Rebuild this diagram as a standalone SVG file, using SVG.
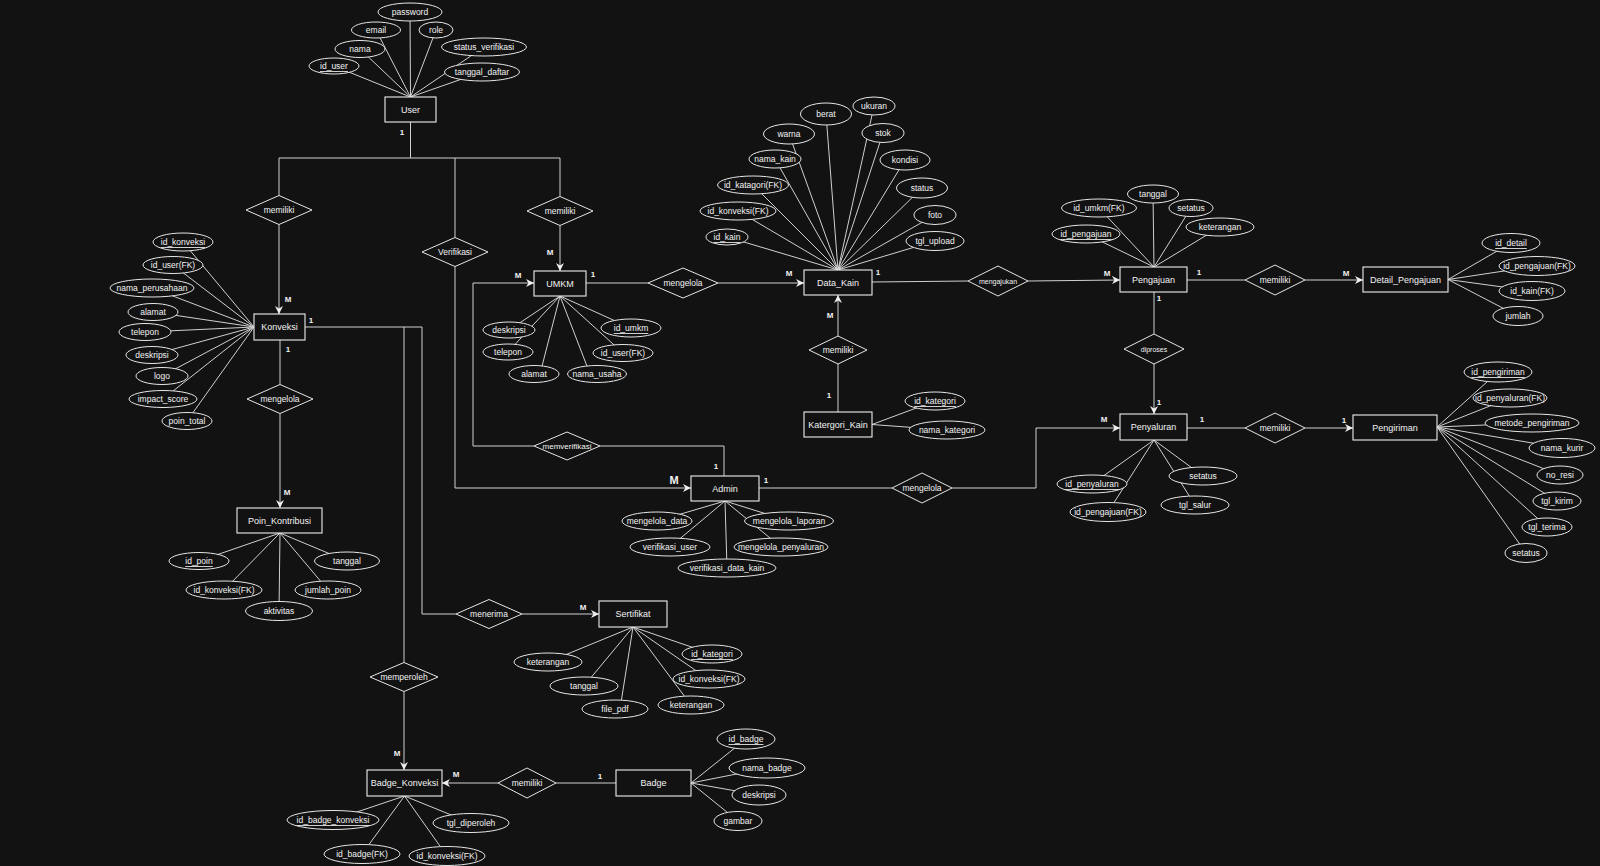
<svg xmlns="http://www.w3.org/2000/svg" width="1600" height="866" viewBox="0 0 1600 866">
<style>
text{font-family:"Liberation Sans",Arial,sans-serif;fill:#f2f2f2;text-anchor:middle;dominant-baseline:central;font-size:8.5px}
.ent text{font-size:9px}
.ent rect{fill:#121212;stroke:#eeeeee;stroke-width:1.1}
.att ellipse{fill:#121212;stroke:#e6e6e6;stroke-width:1}
.rel polygon{fill:#121212;stroke:#e6e6e6;stroke-width:1}
.u{text-decoration:underline}
.card{font-size:8px;font-weight:bold}
.big{font-size:11px;font-weight:bold}
.sm{font-size:7px}
.xs{font-size:8px}
#connectors line,#connectors polyline{stroke:#d0d0d0;stroke-width:1;fill:none}
#connectors .a{marker-end:url(#arr)}
</style>
<defs>
<marker id="arr" viewBox="0 0 10 10" refX="10" refY="5" markerWidth="8" markerHeight="8" markerUnits="userSpaceOnUse" orient="auto">
<path d="M0,0 L10,5 L0,10 L3,5 Z" fill="#f0f0f0"/>
</marker>
</defs>
<rect width="1600" height="866" fill="#121212"/>

<g id="connectors">
<line x1="410.5" y1="122" x2="410.5" y2="158"/>
<line x1="279" y1="158" x2="560" y2="158"/>
<line x1="279" y1="158" x2="279" y2="195.5"/>
<line class="a" x1="279" y1="224.5" x2="279" y2="314"/>
<line x1="455" y1="158" x2="455" y2="237.5"/>
<polyline class="a" points="455,266.5 455,488 691,488"/>
<line x1="560" y1="158" x2="560" y2="196.5"/>
<line class="a" x1="560" y1="225.5" x2="560" y2="271"/>
<line x1="280" y1="340" x2="280" y2="384.5"/>
<line class="a" x1="280" y1="413.5" x2="280" y2="508"/>
<polyline points="305,327 422,327 422,614 456,614"/>
<line x1="404" y1="327" x2="404" y2="662.5"/>
<line class="a" x1="404" y1="691.5" x2="404" y2="770"/>
<line class="a" x1="522" y1="614" x2="599" y2="614"/>
<line x1="586" y1="283" x2="648" y2="283"/>
<line class="a" x1="718" y1="283" x2="804" y2="283"/>
<polyline points="724,476 724,446 600,446"/>
<polyline class="a" points="534,446 473,446 473,283 534,283"/>
<line x1="759" y1="488" x2="892" y2="488"/>
<polyline class="a" points="952,488 1036,488 1036,428 1120,428"/>
<line x1="872" y1="282" x2="968" y2="281"/>
<line class="a" x1="1028" y1="281" x2="1120" y2="280"/>
<line x1="1187" y1="280" x2="1245" y2="280"/>
<line class="a" x1="1305" y1="280" x2="1363" y2="280"/>
<line x1="1154" y1="292" x2="1154" y2="334"/>
<line class="a" x1="1154" y1="364" x2="1154" y2="414"/>
<line x1="1187" y1="428" x2="1245" y2="428"/>
<line class="a" x1="1305" y1="428" x2="1353" y2="428"/>
<line x1="838" y1="412" x2="838" y2="364"/>
<line class="a" x1="838" y1="336" x2="838" y2="295"/>
<line x1="616" y1="783" x2="556" y2="783"/>
<line class="a" x1="498" y1="783" x2="442" y2="783"/>
<line x1="410.5" y1="97" x2="410" y2="12"/>
<line x1="410.5" y1="97" x2="376" y2="30"/>
<line x1="410.5" y1="97" x2="436" y2="30"/>
<line x1="410.5" y1="97" x2="360" y2="49"/>
<line x1="410.5" y1="97" x2="484" y2="47"/>
<line x1="410.5" y1="97" x2="334" y2="66"/>
<line x1="410.5" y1="97" x2="482" y2="72"/>
<line x1="254" y1="327" x2="183" y2="242"/>
<line x1="254" y1="327" x2="173" y2="265"/>
<line x1="254" y1="327" x2="152" y2="288"/>
<line x1="254" y1="327" x2="153" y2="312"/>
<line x1="254" y1="327" x2="145" y2="332"/>
<line x1="254" y1="327" x2="152" y2="355"/>
<line x1="254" y1="327" x2="162" y2="376"/>
<line x1="254" y1="327" x2="163" y2="399"/>
<line x1="254" y1="327" x2="187" y2="421"/>
<line x1="560" y1="296" x2="509" y2="330"/>
<line x1="560" y1="296" x2="631" y2="328"/>
<line x1="560" y1="296" x2="508" y2="352"/>
<line x1="560" y1="296" x2="623" y2="353"/>
<line x1="560" y1="296" x2="540" y2="374"/>
<line x1="560" y1="296" x2="590" y2="374"/>
<line x1="838" y1="270" x2="727" y2="237"/>
<line x1="838" y1="270" x2="738" y2="211"/>
<line x1="838" y1="270" x2="753" y2="185"/>
<line x1="838" y1="270" x2="775" y2="159"/>
<line x1="838" y1="270" x2="789" y2="134"/>
<line x1="838" y1="270" x2="826" y2="114"/>
<line x1="838" y1="270" x2="874" y2="106"/>
<line x1="838" y1="270" x2="883" y2="133"/>
<line x1="838" y1="270" x2="905" y2="160"/>
<line x1="838" y1="270" x2="922" y2="188"/>
<line x1="838" y1="270" x2="935" y2="215"/>
<line x1="838" y1="270" x2="935" y2="241"/>
<line x1="872" y1="424.5" x2="935" y2="401"/>
<line x1="872" y1="424.5" x2="947" y2="430"/>
<line x1="1154" y1="267" x2="1086" y2="234"/>
<line x1="1154" y1="267" x2="1099" y2="208"/>
<line x1="1154" y1="267" x2="1153" y2="194"/>
<line x1="1154" y1="267" x2="1191" y2="208"/>
<line x1="1154" y1="267" x2="1220" y2="227"/>
<line x1="1448" y1="279.5" x2="1511" y2="243"/>
<line x1="1448" y1="279.5" x2="1537" y2="266"/>
<line x1="1448" y1="279.5" x2="1532" y2="291"/>
<line x1="1448" y1="279.5" x2="1518" y2="316"/>
<line x1="1437" y1="427" x2="1498" y2="372"/>
<line x1="1437" y1="427" x2="1510" y2="398"/>
<line x1="1437" y1="427" x2="1532" y2="423"/>
<line x1="1437" y1="427" x2="1562" y2="448"/>
<line x1="1437" y1="427" x2="1560" y2="475"/>
<line x1="1437" y1="427" x2="1557" y2="501"/>
<line x1="1437" y1="427" x2="1547" y2="527"/>
<line x1="1437" y1="427" x2="1526" y2="553"/>
<line x1="1154" y1="440" x2="1092" y2="484"/>
<line x1="1154" y1="440" x2="1108" y2="512"/>
<line x1="1154" y1="440" x2="1203" y2="476"/>
<line x1="1154" y1="440" x2="1195" y2="505"/>
<line x1="725" y1="501" x2="657" y2="521"/>
<line x1="725" y1="501" x2="789" y2="521"/>
<line x1="725" y1="501" x2="670" y2="547"/>
<line x1="725" y1="501" x2="781" y2="547"/>
<line x1="725" y1="501" x2="727" y2="568"/>
<line x1="280" y1="533" x2="199" y2="561"/>
<line x1="280" y1="533" x2="347" y2="561"/>
<line x1="280" y1="533" x2="224" y2="590"/>
<line x1="280" y1="533" x2="328" y2="590"/>
<line x1="280" y1="533" x2="279" y2="611"/>
<line x1="633" y1="627" x2="548" y2="662"/>
<line x1="633" y1="627" x2="584" y2="686"/>
<line x1="633" y1="627" x2="620" y2="709"/>
<line x1="633" y1="627" x2="691" y2="705"/>
<line x1="633" y1="627" x2="708" y2="679"/>
<line x1="633" y1="627" x2="712" y2="654"/>
<line x1="404.5" y1="796" x2="333" y2="820"/>
<line x1="404.5" y1="796" x2="471" y2="823"/>
<line x1="404.5" y1="796" x2="362" y2="854"/>
<line x1="404.5" y1="796" x2="447" y2="856"/>
<line x1="691" y1="783" x2="746" y2="739"/>
<line x1="691" y1="783" x2="767" y2="768"/>
<line x1="691" y1="783" x2="759" y2="795"/>
<line x1="691" y1="783" x2="738" y2="821"/>
</g>

<g id="cardinalities">
<text class="card" x="402" y="132">1</text>
<text class="card" x="288" y="299">M</text>
<text class="card" x="311" y="320">1</text>
<text class="card" x="288" y="349">1</text>
<text class="card" x="550" y="252">M</text>
<text class="card" x="518" y="275">M</text>
<text class="card" x="593" y="274">1</text>
<text class="card" x="789" y="273">M</text>
<text class="card" x="878" y="272">1</text>
<text class="card" x="830" y="315">M</text>
<text class="card" x="829" y="395">1</text>
<text class="card" x="1107" y="273">M</text>
<text class="card" x="1199" y="272">1</text>
<text class="card" x="1159" y="298">1</text>
<text class="card" x="1346" y="273">M</text>
<text class="card" x="1159" y="402">1</text>
<text class="card" x="1104" y="419">M</text>
<text class="card" x="1202" y="419">1</text>
<text class="card" x="1344" y="420">1</text>
<text class="big" x="674" y="480">M</text>
<text class="card" x="716" y="466">1</text>
<text class="card" x="766" y="480">1</text>
<text class="card" x="287" y="492">M</text>
<text class="card" x="583" y="607">M</text>
<text class="card" x="397" y="753">M</text>
<text class="card" x="456" y="774">M</text>
<text class="card" x="600" y="776">1</text>
</g>

<g id="User" class="ent"><rect x="385" y="97" width="51" height="25"/><text x="410.5" y="109.5">User</text></g>
<g id="Konveksi" class="ent"><rect x="254" y="314" width="51" height="26"/><text x="279.5" y="327">Konveksi</text></g>
<g id="UMKM" class="ent"><rect x="534" y="271" width="52" height="25"/><text x="560" y="283.5">UMKM</text></g>
<g id="Data_Kain" class="ent"><rect x="804" y="270" width="68" height="25"/><text x="838" y="282.5">Data_Kain</text></g>
<g id="Pengajuan" class="ent"><rect x="1120" y="267" width="67" height="25"/><text x="1153.5" y="279.5">Pengajuan</text></g>
<g id="Detail_Pengajuan" class="ent"><rect x="1363" y="267" width="85" height="25"/><text x="1405.5" y="279.5">Detail_Pengajuan</text></g>
<g id="Penyaluran" class="ent"><rect x="1120" y="414" width="67" height="26"/><text x="1153.5" y="427">Penyaluran</text></g>
<g id="Pengiriman" class="ent"><rect x="1353" y="415" width="84" height="25"/><text x="1395" y="427.5">Pengiriman</text></g>
<g id="Katergori_Kain" class="ent"><rect x="804" y="412" width="68" height="25"/><text x="838" y="424.5">Katergori_Kain</text></g>
<g id="Admin" class="ent"><rect x="691" y="476" width="68" height="25"/><text x="725" y="488.5">Admin</text></g>
<g id="Poin_Kontribusi" class="ent"><rect x="237" y="508" width="85" height="25"/><text x="279.5" y="520.5">Poin_Kontribusi</text></g>
<g id="Sertifikat" class="ent"><rect x="599" y="601" width="68" height="26"/><text x="633" y="614">Sertifikat</text></g>
<g id="Badge_Konveksi" class="ent"><rect x="367" y="770" width="75" height="26"/><text x="404.5" y="783">Badge_Konveksi</text></g>
<g id="Badge" class="ent"><rect x="616" y="770" width="75" height="26"/><text x="653.5" y="783">Badge</text></g>

<g id="rel_memiliki_user_konveksi" class="rel"><polygon points="246,210 279,195.5 312,210 279,224.5"/><text x="279" y="210">memiliki</text></g>
<g id="rel_verifikasi" class="rel"><polygon points="422,252 455,237.5 488,252 455,266.5"/><text x="455" y="252">Verifikasi</text></g>
<g id="rel_memiliki_user_umkm" class="rel"><polygon points="527,211 560,196.5 593,211 560,225.5"/><text x="560" y="211">memiliki</text></g>
<g id="rel_mengelola_poin" class="rel"><polygon points="247,399 280,384.5 313,399 280,413.5"/><text x="280" y="399">mengelola</text></g>
<g id="rel_mengelola_kain" class="rel"><polygon points="648,283 683,268 718,283 683,298"/><text x="683" y="283">mengelola</text></g>
<g id="rel_memverifikasi" class="rel"><polygon points="534,446 567,432 600,446 567,460"/><text class="xs" x="567" y="446">memverifikasi</text></g>
<g id="rel_memiliki_kategori" class="rel"><polygon points="809,350 838,336 867,350 838,364"/><text x="838" y="350">memiliki</text></g>
<g id="rel_mengajukan" class="rel"><polygon points="968,281 998,266 1028,281 998,296"/><text class="sm" x="998" y="281">mengajukan</text></g>
<g id="rel_memiliki_detail" class="rel"><polygon points="1245,280 1275,265 1305,280 1275,295"/><text x="1275" y="280">memiliki</text></g>
<g id="rel_diproses" class="rel"><polygon points="1124,349 1154,334 1184,349 1154,364"/><text class="sm" x="1154" y="349">diproses</text></g>
<g id="rel_memiliki_pengiriman" class="rel"><polygon points="1245,428 1275,413 1305,428 1275,443"/><text x="1275" y="428">memiliki</text></g>
<g id="rel_mengelola_penyaluran" class="rel"><polygon points="892,488 922,473 952,488 922,503"/><text x="922" y="488">mengelola</text></g>
<g id="rel_menerima" class="rel"><polygon points="456,614 489,599.5 522,614 489,628.5"/><text x="489" y="614">menerima</text></g>
<g id="rel_memperoleh" class="rel"><polygon points="370,677 404,662.5 438,677 404,691.5"/><text x="404" y="677">memperoleh</text></g>
<g id="rel_memiliki_badge" class="rel"><polygon points="498,783 527,768 556,783 527,798"/><text x="527" y="783">memiliki</text></g>

<g id="attr_User" class="att">
<ellipse cx="410" cy="12" rx="32" ry="9"/><text x="410" y="12">password</text>
<ellipse cx="376" cy="30" rx="24.5" ry="8"/><text x="376" y="30">email</text>
<ellipse cx="436" cy="30" rx="17" ry="8"/><text x="436" y="30">role</text>
<ellipse cx="360" cy="49" rx="25" ry="8.5"/><text x="360" y="49">nama</text>
<ellipse cx="484" cy="47" rx="42.5" ry="9"/><text x="484" y="47">status_verifikasi</text>
<ellipse cx="334" cy="66" rx="25" ry="8"/><text class="u" x="334" y="66">id_user</text>
<ellipse cx="482" cy="72" rx="37.5" ry="9"/><text x="482" y="72">tanggal_daftar</text>
</g>
<g id="attr_Konveksi" class="att">
<ellipse cx="183" cy="242" rx="30" ry="9"/><text class="u" x="183" y="242">id_konveksi</text>
<ellipse cx="173" cy="265" rx="30" ry="8.5"/><text x="173" y="265">id_user(FK)</text>
<ellipse cx="152" cy="288" rx="42" ry="9"/><text x="152" y="288">nama_perusahaan</text>
<ellipse cx="153" cy="312" rx="25" ry="8.5"/><text x="153" y="312">alamat</text>
<ellipse cx="145" cy="332" rx="26" ry="8.5"/><text x="145" y="332">telepon</text>
<ellipse cx="152" cy="355" rx="26" ry="8.5"/><text x="152" y="355">deskripsi</text>
<ellipse cx="162" cy="376" rx="26" ry="8.5"/><text x="162" y="376">logo</text>
<ellipse cx="163" cy="399" rx="34" ry="8.5"/><text x="163" y="399">impact_score</text>
<ellipse cx="187" cy="421" rx="25" ry="8.5"/><text x="187" y="421">poin_total</text>
</g>
<g id="attr_UMKM" class="att">
<ellipse cx="509" cy="330" rx="26" ry="8"/><text x="509" y="330">deskripsi</text>
<ellipse cx="631" cy="328" rx="30" ry="9"/><text class="u" x="631" y="328">id_umkm</text>
<ellipse cx="508" cy="352" rx="25" ry="8"/><text x="508" y="352">telepon</text>
<ellipse cx="623" cy="353" rx="30" ry="8.5"/><text x="623" y="353">id_user(FK)</text>
<ellipse cx="534" cy="374" rx="25" ry="8.5"/><text x="534" y="374">alamat</text>
<ellipse cx="597" cy="374" rx="29.5" ry="8.5"/><text x="597" y="374">nama_usaha</text>
</g>
<g id="attr_Data_Kain" class="att">
<ellipse cx="727" cy="237" rx="21" ry="8"/><text class="u" x="727" y="237">id_kain</text>
<ellipse cx="738" cy="211" rx="38" ry="9"/><text x="738" y="211">id_konveksi(FK)</text>
<ellipse cx="753" cy="185" rx="35.5" ry="9"/><text x="753" y="185">id_katagori(FK)</text>
<ellipse cx="775" cy="159" rx="26" ry="9"/><text x="775" y="159">nama_kain</text>
<ellipse cx="789" cy="134" rx="25.5" ry="10"/><text x="789" y="134">warna</text>
<ellipse cx="826" cy="114" rx="25.5" ry="11"/><text x="826" y="114">berat</text>
<ellipse cx="874" cy="106" rx="21" ry="9"/><text x="874" y="106">ukuran</text>
<ellipse cx="883" cy="133" rx="21" ry="9.5"/><text x="883" y="133">stok</text>
<ellipse cx="905" cy="160" rx="25" ry="10"/><text x="905" y="160">kondisi</text>
<ellipse cx="922" cy="188" rx="25.5" ry="10"/><text x="922" y="188">status</text>
<ellipse cx="935" cy="215" rx="21" ry="9.5"/><text x="935" y="215">foto</text>
<ellipse cx="935" cy="241" rx="29" ry="9.5"/><text x="935" y="241">tgl_upload</text>
</g>
<g id="attr_Katergori_Kain" class="att">
<ellipse cx="935" cy="401" rx="30" ry="9"/><text class="u" x="935" y="401">id_kategori</text>
<ellipse cx="947" cy="430" rx="38" ry="9"/><text x="947" y="430">nama_kategori</text>
</g>
<g id="attr_Pengajuan" class="att">
<ellipse cx="1086" cy="234" rx="34" ry="9"/><text class="u" x="1086" y="234">id_pengajuan</text>
<ellipse cx="1099" cy="208" rx="37.5" ry="9"/><text x="1099" y="208">id_umkm(FK)</text>
<ellipse cx="1153" cy="194" rx="25.5" ry="9"/><text x="1153" y="194">tanggal</text>
<ellipse cx="1191" cy="208" rx="22" ry="8.5"/><text x="1191" y="208">setatus</text>
<ellipse cx="1220" cy="227" rx="34" ry="9"/><text x="1220" y="227">keterangan</text>
</g>
<g id="attr_Detail_Pengajuan" class="att">
<ellipse cx="1511" cy="243" rx="29" ry="9.5"/><text class="u" x="1511" y="243">id_detail</text>
<ellipse cx="1537" cy="266" rx="38" ry="9.5"/><text x="1537" y="266">id_pengajuan(FK)</text>
<ellipse cx="1532" cy="291" rx="33" ry="9.5"/><text x="1532" y="291">id_kain(FK)</text>
<ellipse cx="1518" cy="316" rx="25" ry="9.5"/><text x="1518" y="316">jumlah</text>
</g>
<g id="attr_Pengiriman" class="att">
<ellipse cx="1498" cy="372" rx="34" ry="10"/><text class="u" x="1498" y="372">id_pengiriman</text>
<ellipse cx="1510" cy="398" rx="37" ry="9"/><text x="1510" y="398">id_penyaluran(FK)</text>
<ellipse cx="1532" cy="423" rx="47" ry="9"/><text x="1532" y="423">metode_pengiriman</text>
<ellipse cx="1562" cy="448" rx="33" ry="9.5"/><text x="1562" y="448">nama_kurir</text>
<ellipse cx="1560" cy="475" rx="23" ry="9"/><text x="1560" y="475">no_resi</text>
<ellipse cx="1557" cy="501" rx="24" ry="9"/><text x="1557" y="501">tgl_kirim</text>
<ellipse cx="1547" cy="527" rx="25" ry="9"/><text x="1547" y="527">tgl_terima</text>
<ellipse cx="1526" cy="553" rx="21" ry="9.5"/><text x="1526" y="553">setatus</text>
</g>
<g id="attr_Penyaluran" class="att">
<ellipse cx="1092" cy="484" rx="35" ry="9"/><text class="u" x="1092" y="484">id_penyaluran</text>
<ellipse cx="1108" cy="512" rx="38" ry="9.5"/><text x="1108" y="512">id_pengajuan(FK)</text>
<ellipse cx="1203" cy="476" rx="34" ry="9"/><text x="1203" y="476">setatus</text>
<ellipse cx="1195" cy="505" rx="34" ry="9"/><text x="1195" y="505">tgl_salur</text>
</g>
<g id="attr_Admin" class="att">
<ellipse cx="657" cy="521" rx="35" ry="9"/><text x="657" y="521">mengelola_data</text>
<ellipse cx="789" cy="521" rx="44.5" ry="9"/><text x="789" y="521">mengelola_laporan</text>
<ellipse cx="670" cy="547" rx="40" ry="9"/><text x="670" y="547">verifikasi_user</text>
<ellipse cx="781" cy="547" rx="47" ry="9"/><text x="781" y="547">mengelola_penyaluran</text>
<ellipse cx="727" cy="568" rx="49" ry="9"/><text x="727" y="568">verifikasi_data_kain</text>
</g>
<g id="attr_Poin_Kontribusi" class="att">
<ellipse cx="199" cy="561" rx="30" ry="8.5"/><text class="u" x="199" y="561">id_poin</text>
<ellipse cx="347" cy="561" rx="32.5" ry="9"/><text x="347" y="561">tanggal</text>
<ellipse cx="224" cy="590" rx="38" ry="9"/><text x="224" y="590">id_konveksi(FK)</text>
<ellipse cx="328" cy="590" rx="33" ry="9"/><text x="328" y="590">jumlah_poin</text>
<ellipse cx="279" cy="611" rx="33.5" ry="9.5"/><text x="279" y="611">aktivitas</text>
</g>
<g id="attr_Sertifikat" class="att">
<ellipse cx="548" cy="662" rx="34" ry="9"/><text x="548" y="662">keterangan</text>
<ellipse cx="584" cy="686" rx="34" ry="9"/><text x="584" y="686">tanggal</text>
<ellipse cx="615" cy="709" rx="33" ry="9"/><text x="615" y="709">file_pdf</text>
<ellipse cx="691" cy="705" rx="33" ry="9"/><text x="691" y="705">keterangan</text>
<ellipse cx="709" cy="679" rx="36" ry="9"/><text x="709" y="679">id_konveksi(FK)</text>
<ellipse cx="712" cy="654" rx="30" ry="9"/><text class="u" x="712" y="654">id_kategori</text>
</g>
<g id="attr_Badge_Konveksi" class="att">
<ellipse cx="333" cy="820" rx="46" ry="9.5"/><text class="u" x="333" y="820">id_badge_konveksi</text>
<ellipse cx="471" cy="823" rx="38" ry="9.5"/><text x="471" y="823">tgl_diperoleh</text>
<ellipse cx="362" cy="854" rx="38" ry="9.5"/><text x="362" y="854">id_badge(FK)</text>
<ellipse cx="447" cy="856" rx="38" ry="9.5"/><text x="447" y="856">id_konveksi(FK)</text>
</g>
<g id="attr_Badge" class="att">
<ellipse cx="746" cy="739" rx="29" ry="10"/><text class="u" x="746" y="739">id_badge</text>
<ellipse cx="767" cy="768" rx="38" ry="10"/><text x="767" y="768">nama_badge</text>
<ellipse cx="759" cy="795" rx="27" ry="10"/><text x="759" y="795">deskripsi</text>
<ellipse cx="738" cy="821" rx="24" ry="9.5"/><text x="738" y="821">gambar</text>
</g>
</svg>
